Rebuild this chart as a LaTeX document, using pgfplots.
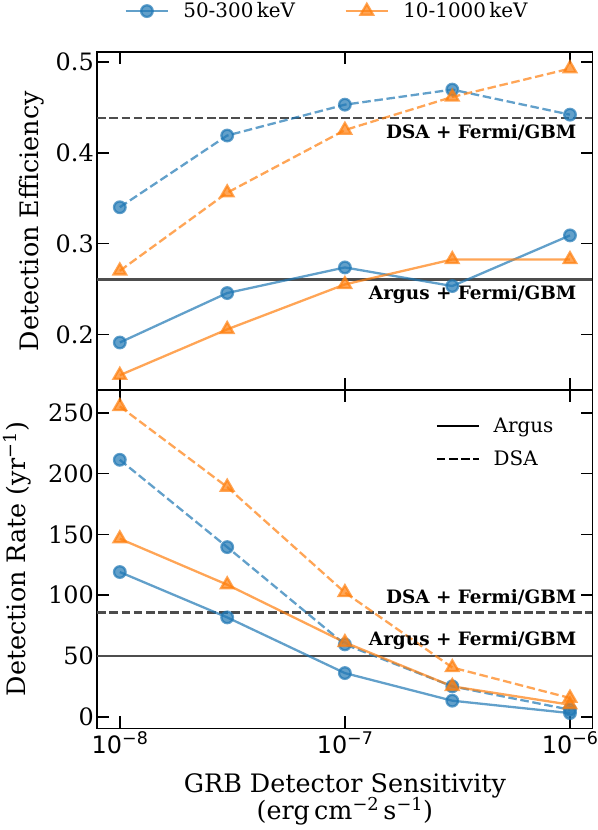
\documentclass[border=0pt]{standalone}
\usepackage{pgfplots}
\pgfplotsset{compat=1.18}
\usepackage{fontspec}
\setmainfont{DejaVu Serif}
\newfontfamily\sansf{DejaVu Sans}
\definecolor{tblue}{HTML}{1F77B4}
\definecolor{torange}{HTML}{FF7F0E}
\definecolor{hline}{HTML}{4D4D4D}
\newcommand{\tf}{\fontsize{24}{28}\selectfont}
\newcommand{\lf}{\fontsize{25.5}{28}\selectfont}
\newcommand{\gf}{\fontsize{20}{24}\selectfont}
\newcommand{\bff}{\fontsize{18.5}{22}\selectfont\bfseries}
\newcommand{\xl}[1]{{\sansf\fontsize{24}{28}\selectfont 10\raisebox{8.5bp}{\fontsize{17.5}{18}\selectfont −#1}}}

\begin{document}
\begin{tikzpicture}
\path[use as bounding box] (-97.3bp,-101.7bp) rectangle (500.7bp,728.3bp);
% ---------------- top panel ----------------
\begin{axis}[
  scale only axis, width=495.2bp, height=337.7bp,
  at={(0,338.3bp)}, anchor=south west,
  xmode=log, xmin=7.943e-9, xmax=1.259e-6,
  xtick={1e-8,1e-7,1e-6}, xminorticks=false, yminorticks=false,
  axis line style={line width=1.6bp},
  major tick style={line width=1.6bp, black},
  major tick length=12bp,
  tick align=inside,
  tick label style={font=\tf},
  clip=false,
  ymin=0.1387, ymax=0.5107, ytick={0.2,0.3,0.4,0.5},
  yticklabel style={/pgf/number format/assume math mode=true, /pgf/number format/fixed, /pgf/number format/fixed zerofill, /pgf/number format/precision=1},
  xticklabels=\empty,
  ylabel={Detection Efficiency}, ylabel style={font=\lf, at={(axis description cs:-0.1187,0.5)}, anchor=base},
  legend style={font=\gf, draw=none, fill=none, at={(axis description cs:0.464,1.122)}, anchor=center},
  legend columns=2,
  legend image code/.code={\draw[mark repeat=2,mark phase=2] plot coordinates {(0bp,0bp) (21.3bp,0bp) (42.6bp,0bp)};},
]
\addplot[color=hline, line width=2.3bp, dash pattern=on 8.5bp off 3.7bp, forget plot] coordinates {(7.943e-9,0.438) (1.259e-6,0.438)};
\addplot[color=hline, line width=2.3bp, forget plot] coordinates {(7.943e-9,0.2605) (1.259e-6,0.2605)};
\addplot[color=tblue, line width=2.3bp, opacity=0.7, mark=*, mark size=5.8bp, mark options={solid, fill=tblue}, dash pattern=on 8.5bp off 3.7bp, forget plot] coordinates {(1e-8,0.340) (3e-8,0.419) (1e-7,0.453) (3e-7,0.4696) (1e-6,0.442)};
\addplot[color=torange, line width=2.3bp, opacity=0.7, mark=triangle*, mark size=7.2bp, mark options={solid, fill=torange}, dash pattern=on 8.5bp off 3.7bp, forget plot] coordinates {(1e-8,0.270) (3e-8,0.356) (1e-7,0.425) (3e-7,0.4615) (1e-6,0.4927)};
\addplot[color=tblue, line width=2.3bp, opacity=0.7, mark=*, mark size=5.8bp, mark options={solid, fill=tblue}, forget plot] coordinates {(1e-8,0.191) (3e-8,0.2455) (1e-7,0.2737) (3e-7,0.2532) (1e-6,0.309)};
\addplot[color=torange, line width=2.3bp, opacity=0.7, mark=triangle*, mark size=7.2bp, mark options={solid, fill=torange}, forget plot] coordinates {(1e-8,0.155) (3e-8,0.2055) (1e-7,0.255) (3e-7,0.2825) (1e-6,0.2825)};
\node[anchor=base east, font=\bff, inner sep=0] at (axis cs:1.07e-6,0.416) {DSA + Fermi/GBM};
\node[anchor=base east, font=\bff, inner sep=0] at (axis cs:1.07e-6,0.2389) {Argus + Fermi/GBM};
\addlegendimage{color=tblue, line width=2.3bp, opacity=0.7, mark=*, mark size=5.8bp, mark options={solid, fill=tblue}}
\addlegendentry{\makebox[171bp][l]{\kern12bp 50-300\,keV}}
\addlegendimage{color=torange, line width=2.3bp, opacity=0.7, mark=triangle*, mark size=7.2bp, mark options={solid, fill=torange}}
\addlegendentry{\kern12bp 10-1000\,keV}
\end{axis}
% ---------------- bottom panel ----------------
\begin{axis}[
  scale only axis, width=495.2bp, height=338.3bp,
  at={(0,0)}, anchor=south west,
  xmode=log, xmin=7.943e-9, xmax=1.259e-6,
  xtick={1e-8,1e-7,1e-6}, xminorticks=false, yminorticks=false,
  axis line style={line width=1.6bp},
  major tick style={line width=1.6bp, black},
  major tick length=12bp,
  tick align=inside,
  tick label style={font=\tf},
  clip=false,
  ymin=-9.5, ymax=268.7, ytick={0,50,100,150,200,250},
  yticklabel style={/pgf/number format/assume math mode=true},
  xticklabels={\xl{8},\xl{7},\xl{6}},
  ylabel={Detection Rate (yr\textsuperscript{−1})}, ylabel style={font=\lf, at={(axis description cs:-0.144,0.5)}, anchor=base},
  xlabel={GRB Detector Sensitivity\\(erg\,cm\textsuperscript{−2}\,s\textsuperscript{−1})},
  xlabel style={font=\lf, align=center, at={(axis description cs:0.5,0)}, anchor=north, yshift=-44.7bp, inner sep=0pt},
  legend style={font=\gf, draw=none, fill=none, at={(axis description cs:0.93,0.93)}, anchor=north east, row sep=13bp},
  legend image code/.code={\draw (0bp,0bp) -- (42.6bp,0bp);},
]
\addplot[color=hline, line width=2.3bp, dash pattern=on 8.5bp off 3.7bp, forget plot] coordinates {(7.943e-9,85.8) (1.259e-6,85.8)};
\addplot[color=hline, line width=2.3bp, forget plot] coordinates {(7.943e-9,50.2) (1.259e-6,50.2)};
\addplot[color=tblue, line width=2.3bp, opacity=0.7, mark=*, mark size=5.8bp, mark options={solid, fill=tblue}, dash pattern=on 8.5bp off 3.7bp, forget plot] coordinates {(1e-8,211.3) (3e-8,139.5) (1e-7,59.5) (3e-7,25) (1e-6,5.8)};
\addplot[color=torange, line width=2.3bp, opacity=0.7, mark=triangle*, mark size=7.2bp, mark options={solid, fill=torange}, dash pattern=on 8.5bp off 3.7bp, forget plot] coordinates {(1e-8,255.2) (3e-8,188.9) (1e-7,102.2) (3e-7,40.5) (1e-6,15.4)};
\addplot[color=tblue, line width=2.3bp, opacity=0.7, mark=*, mark size=5.8bp, mark options={solid, fill=tblue}, forget plot] coordinates {(1e-8,119) (3e-8,81.7) (1e-7,35.9) (3e-7,13.2) (1e-6,3)};
\addplot[color=torange, line width=2.3bp, opacity=0.7, mark=triangle*, mark size=7.2bp, mark options={solid, fill=torange}, forget plot] coordinates {(1e-8,146.4) (3e-8,108.6) (1e-7,61.1) (3e-7,25) (1e-6,9.9)};
\node[anchor=base east, font=\bff, inner sep=0] at (axis cs:1.07e-6,93.5) {DSA + Fermi/GBM};
\node[anchor=base east, font=\bff, inner sep=0] at (axis cs:1.07e-6,58.4) {Argus + Fermi/GBM};
\addlegendimage{color=black, line width=2.3bp}
\addlegendentry{\makebox[70bp][l]{\kern11bp Argus}}
\addlegendimage{color=black, line width=2.3bp, dash pattern=on 8.5bp off 3.7bp}
\addlegendentry{\makebox[70bp][l]{\kern11bp DSA}}
\end{axis}
\end{tikzpicture}
\end{document}
